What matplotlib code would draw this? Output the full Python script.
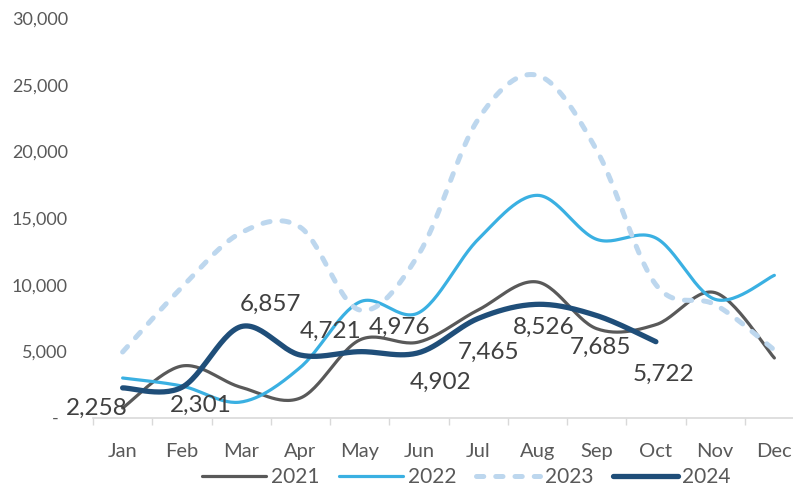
import numpy as np
import matplotlib
matplotlib.use("Agg")
import matplotlib.pyplot as plt

months = ['Jan', 'Feb', 'Mar', 'Apr', 'May', 'Jun', 'Jul', 'Aug', 'Sep', 'Oct', 'Nov', 'Dec']
y2021 = [750, 3900, 2300, 1500, 5850, 5700, 8100, 10200, 6700, 7000, 9400, 4500]
y2022 = [3000, 2400, 1200, 3800, 8700, 7900, 13400, 16700, 13400, 13500, 8900, 10700]
y2023 = [4950, 9800, 13900, 14300, 8100, 12300, 22400, 25700, 20100, 10000, 8500, 5100]
y2024 = [2258, 2301, 6857, 4721, 4976, 4902, 7465, 8526, 7685, 5722]
# label offsets in pixels (dx right, dy up) relative to each 2024 point
label_offsets = [(-26, -20), (19, -18), (29, 22), (30, 24), (40, 24), (22, -30), (10, -34), (6, -23), (4, -32), (8, -33)]

GRAY = '#595959'
TXT = '#404040'


def smooth(ys, n=30):
    # Excel-like smoothed line: Catmull-Rom style cubic Bezier segments
    p = np.column_stack([np.arange(len(ys)), np.asarray(ys, float)])
    pts = np.vstack([p[0], p, p[-1]])
    out = []
    t = np.linspace(0, 1, n)[:, None]
    for i in range(len(p) - 1):
        p0, p1, p2, p3 = pts[i], pts[i + 1], pts[i + 2], pts[i + 3]
        c1 = p1 + (p2 - p0) / 6
        c2 = p2 - (p3 - p1) / 6
        seg = ((1 - t) ** 3) * p1 + 3 * ((1 - t) ** 2) * t * c1 + 3 * (1 - t) * t ** 2 * c2 + t ** 3 * p2
        out.append(seg if i == 0 else seg[1:])
    s = np.vstack(out)
    return s[:, 0], s[:, 1]


plt.rcParams['font.family'] = ['Lato', 'DejaVu Sans']

fig = plt.figure(figsize=(7.93, 4.87), dpi=100)
ax = fig.add_axes([93 / 793, 1 - 418 / 487, 711 / 793, 400 / 487])

x, y = smooth(y2021)
ax.plot(x, y, color=GRAY, lw=2.3, label='2021', solid_capstyle='round')
x, y = smooth(y2022)
ax.plot(x, y, color='#3AB0E2', lw=2.3, label='2022', solid_capstyle='round')
x, y = smooth(y2023)
ax.plot(x, y, color='#BDD7EE', lw=3.6, label='2023', dashes=(1.45, 2.4),
        dash_capstyle='round')
x, y = smooth(y2024)
ax.plot(x, y, color='#1F4E79', lw=3.8, label='2024', solid_capstyle='round')

for i, v in enumerate(y2024):
    dx, dy = label_offsets[i]
    ax.annotate(f'{v:,}', (i, v), xytext=(dx * 0.72, dy * 0.72), textcoords='offset points',
                ha='center', va='center', fontsize=17.5, color=TXT)

ax.set_xlim(-0.5, 11.5)
ax.set_ylim(0, 30000)
ax.set_yticks(range(0, 30001, 5000))
ax.set_yticklabels(['-  '] + [f'{v:,}' for v in range(5000, 30001, 5000)])
ax.tick_params(axis='y', length=0, pad=18, labelsize=13, labelcolor=GRAY)

ax.set_xticks(np.arange(-0.5, 11.5, 1))
ax.set_xticklabels([])
ax.set_xticks(range(12), minor=True)
ax.set_xticklabels(months, minor=True)
ax.tick_params(axis='x', which='major', length=5, color='#D9D9D9', width=1)
ax.tick_params(axis='x', which='minor', length=0, pad=18, labelsize=14.5, labelcolor=GRAY)

for s in ['left', 'right', 'top']:
    ax.spines[s].set_visible(False)
ax.spines['bottom'].set_color('#D9D9D9')
ax.spines['bottom'].set_linewidth(1.2)

leg = fig.legend(loc='center', bbox_to_anchor=(466 / 793, 1 - 477 / 487), ncol=4, frameon=False,
                 fontsize=15, handlelength=3.1, handletextpad=0.2, columnspacing=0.95,
                 labelcolor=GRAY, borderaxespad=0)

fig.savefig('out.png', dpi=100)
